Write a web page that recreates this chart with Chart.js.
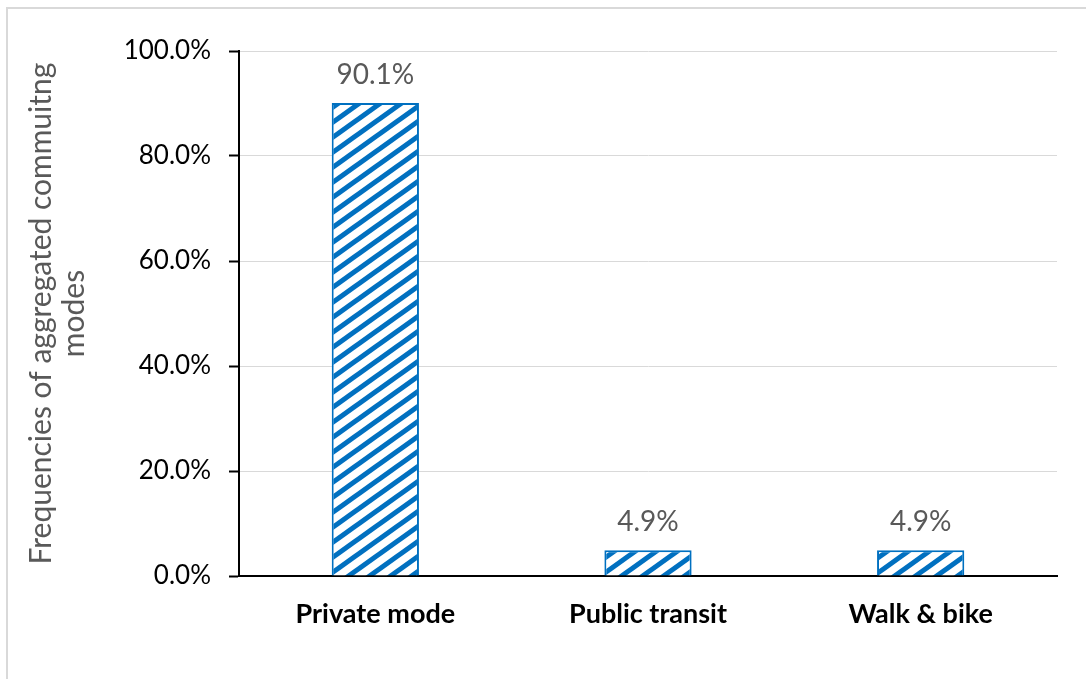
<!DOCTYPE html>
<html>
<head>
<meta charset="utf-8">
<script src="https://cdn.jsdelivr.net/npm/chart.js@4.4.0/dist/chart.umd.min.js"></script>
<style>
  html, body { margin: 0; padding: 0; background: #fff; }
  #wrap { position: relative; width: 1086px; height: 679px; overflow: hidden; }
  #frame { position: absolute; left: 6px; top: 7px; width: 1200px; height: 800px;
           border-top: 2px solid #d9d9d9; border-left: 2px solid #d9d9d9; }
  canvas { position: absolute; left: 0; top: 0; }
</style>
</head>
<body>
<div id="wrap">
  <div id="frame"></div>
  <canvas id="c" width="1086" height="679"></canvas>
</div>
<script>
const categories = ['Private mode', 'Public transit', 'Walk & bike'];
const shares = [90.1, 4.9, 4.9];
const yTicks = [0, 20, 40, 60, 80, 100];
const yTitle = ['Frequencies of aggregated commuitng', 'modes'];

const BLUE = '#0070C0';
const FONT = 'Lato, "Open Sans", sans-serif';

function makePattern() {
  const w = 21, h = 15;
  const t = document.createElement('canvas');
  t.width = w; t.height = h;
  const g = t.getContext('2d');
  g.fillStyle = '#ffffff';
  g.fillRect(0, 0, w, h);
  g.strokeStyle = BLUE;
  g.lineWidth = 5;
  for (const dx of [-w, 0, w]) {
    g.beginPath();
    g.moveTo(dx - w, 2 * h);
    g.lineTo(dx + 2 * w, -h);
    g.stroke();
  }
  return document.getElementById('c').getContext('2d').createPattern(t, 'repeat');
}

const valueLabels = {
  id: 'valueLabels',
  afterDatasetsDraw(chart) {
    const ctx = chart.ctx;
    const meta = chart.getDatasetMeta(0);
    ctx.save();
    ctx.font = '28px ' + FONT;
    ctx.fillStyle = '#595959';
    ctx.textAlign = 'center';
    ctx.textBaseline = 'alphabetic';
    meta.data.forEach((bar, i) => {
      ctx.fillText(shares[i].toFixed(1) + '%', bar.x, bar.y - 19);
    });
    ctx.restore();
  }
};

new Chart(document.getElementById('c'), {
  type: 'bar',
  data: {
    labels: categories,
    datasets: [{
      data: shares,
      backgroundColor: makePattern(),
      borderColor: BLUE,
      borderWidth: 2,
      categoryPercentage: 1.0,
      barPercentage: 0.32
    }]
  },
  options: {
    responsive: false,
    animation: false,
    devicePixelRatio: 1,
    layout: { padding: { left: 0, top: 51, right: 29, bottom: 0 } },
    plugins: { legend: { display: false }, tooltip: { enabled: false } },
    scales: {
      x: {
        z: 1,
        grid: { display: false, drawTicks: false },
        border: { display: true, color: '#000', width: 2 },
        ticks: { color: '#000', padding: 22, font: { family: FONT, size: 27, weight: 'bold' } },
        afterFit(s) { s.height = 679 - 576; }
      },
      y: {
        min: 0, max: 100,
        afterBuildTicks(s) { s.ticks = yTicks.map(v => ({ value: v })); },
        grid: { color: '#d9d9d9', lineWidth: 1, tickColor: '#000', tickWidth: 2, tickLength: 10 },
        border: { display: true, color: '#000', width: 2 },
        ticks: { color: '#000', padding: 18, font: { family: FONT, size: 26 },
                 callback: v => v.toFixed(1) + '%' },
        title: { display: true, text: yTitle, color: '#595959',
                 font: { family: FONT, size: 30, lineHeight: 1.1 },
                 padding: { top: 25, bottom: 0 } },
        afterFit(s) { s.width = 239; }
      }
    }
  },
  plugins: [valueLabels]
});
</script>
</body>
</html>
